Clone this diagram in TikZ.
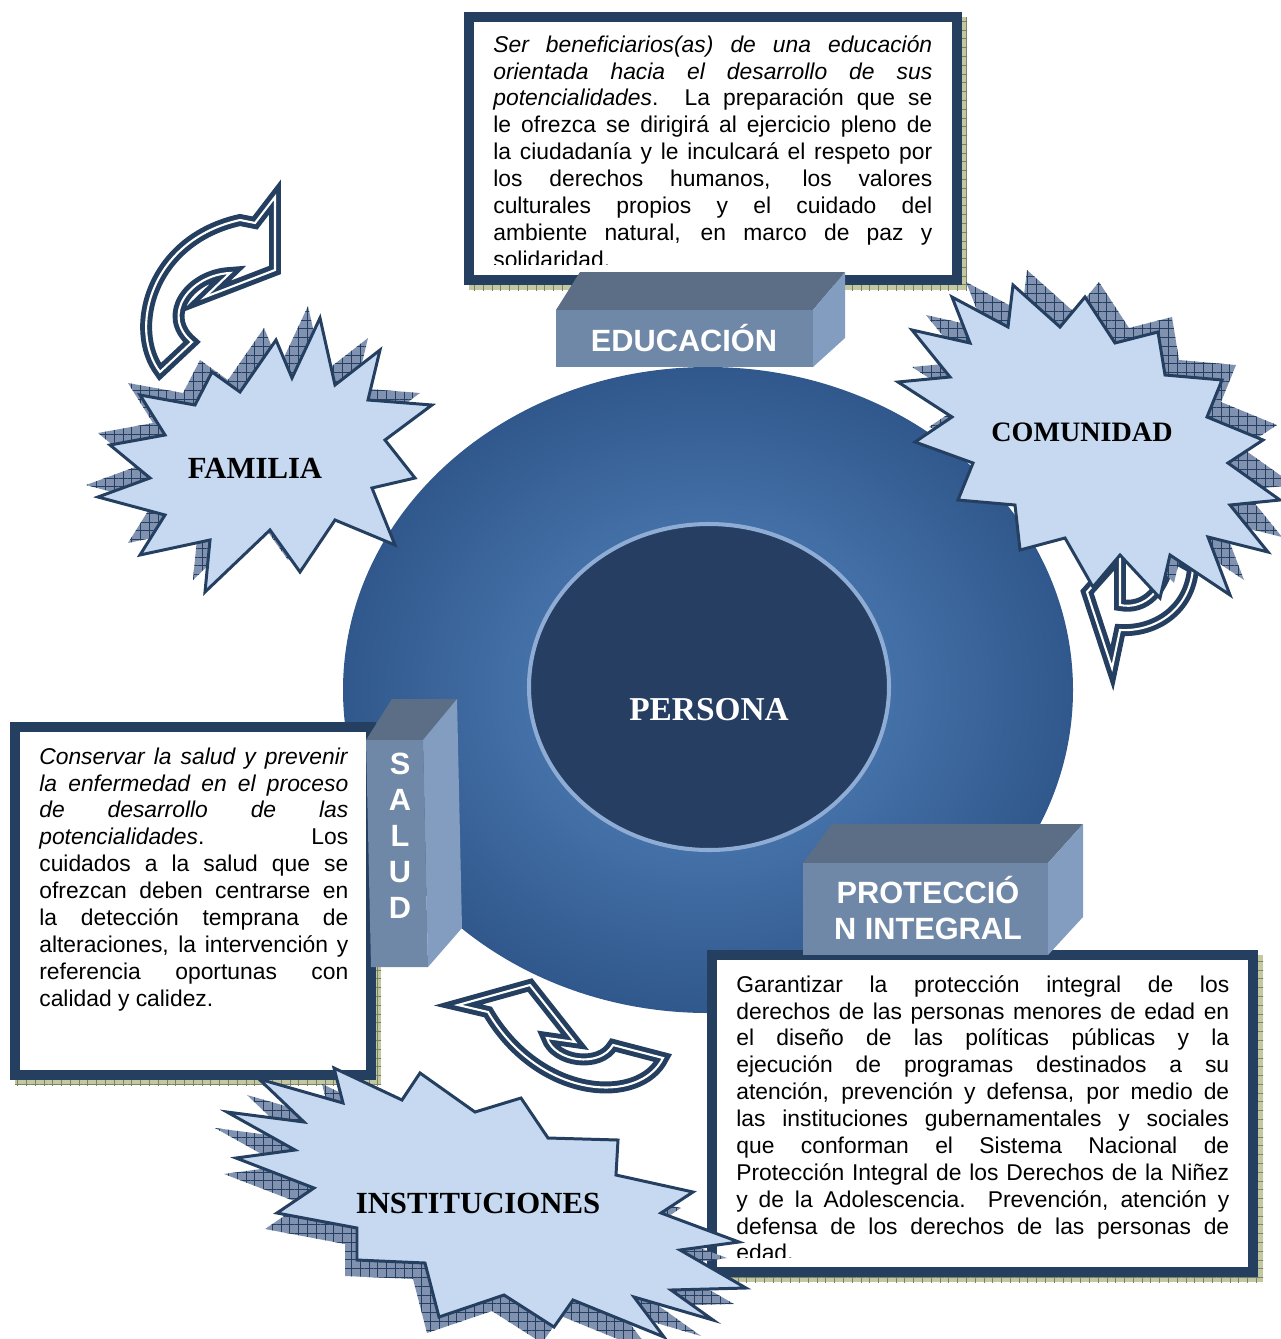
\documentclass[tikz,border=0pt]{standalone}
\usepackage{fontspec}
\setmainfont{Liberation Sans}
\newfontfamily\serifa{Liberation Serif}
\usetikzlibrary{patterns.meta}
\definecolor{azul_oscuro}{RGB}{36,63,96}
\definecolor{celeste}{RGB}{198,217,241}
\definecolor{gris_azul}{RGB}{128,146,176}
\definecolor{oliva}{RGB}{196,200,160}
\definecolor{oliva_oscuro}{RGB}{120,130,100}
\definecolor{caja_tapa}{RGB}{91,110,134}
\definecolor{caja_frente}{RGB}{112,136,167}
\definecolor{caja_lado}{RGB}{130,157,192}
\definecolor{disco_claro}{RGB}{88,136,196}
\definecolor{disco_oscuro}{RGB}{48,88,140}
\definecolor{persona}{RGB}{37,62,98}
\definecolor{anillo}{RGB}{143,172,212}
\tikzstyle{estrella}=[fill=celeste,draw=azul_oscuro,line width=1.7pt,line join=miter]
\tikzstyle{sombra_estrella}=[preaction={fill=gris_azul},
  pattern={Hatch[angle=0,distance=5pt,line width=0.5pt]},pattern color=azul_oscuro]
\tikzstyle{marco}=[fill=white,draw=azul_oscuro,line width=5.7pt]
\tikzstyle{sombra_marco}=[preaction={fill=oliva},
  pattern={Hatch[angle=0,distance=5pt,line width=0.4pt]},pattern color=oliva_oscuro]
\tikzstyle{flecha}=[fill=white,draw=azul_oscuro,line width=2.8pt,
  double=white,double distance=1.2pt,line join=miter]
\tikzstyle{etiqueta}=[font=\serifa\bfseries\fontsize{17.5}{20}\selectfont]
\tikzstyle{bloque}=[text=white,align=center,
  font=\bfseries\fontsize{17.5}{20.5}\selectfont]
\tikzstyle{texto}=[anchor=north west,inner sep=0pt,align=left,
  font=\fontsize{13}{15.3}\selectfont]
\newcommand{\fila}[2][8.78cm]{\makebox[#1][s]{#2}}
\newcommand{\trazofamilia}{(212,372) -- (240,392) -- (276,340) -- (292,378) -- (320,318)
  -- (335,385) -- (380,350) -- (368,400) -- (432,405) -- (385,440) -- (415,478)
  -- (372,488) -- (395,545) -- (335,520) -- (300,572) -- (270,530) -- (205,592)
  -- (210,540) -- (140,555) -- (165,515) -- (98,497) -- (150,478) -- (110,445)
  -- (165,435) -- (140,395) -- (195,405) -- cycle}
\newcommand{\trazocomunidad}{(952,297) -- (1008,327) -- (1013,285) -- (1060,327)
  -- (1085,297) -- (1115,343) -- (1158,332) -- (1165,375) -- (1222,380) -- (1207,417)
  -- (1263,440) -- (1228,463) -- (1280,500) -- (1230,505) -- (1268,552) -- (1208,537)
  -- (1230,595) -- (1170,555) -- (1160,598) -- (1120,555) -- (1093,587) -- (1065,538)
  -- (1020,550) -- (1015,505) -- (958,500) -- (973,463) -- (915,442) -- (952,417)
  -- (898,382) -- (950,377) -- (912,330) -- (970,343) -- cycle}
\newcommand{\trazoinstituciones}{(334,1068) -- (402,1100) -- (420,1073) -- (475,1112)
  -- (521,1098) -- (548,1138) -- (618,1140) -- (616,1175) -- (693,1192) -- (661,1213)
  -- (739,1242) -- (680,1250) -- (746,1288) -- (671,1290) -- (713,1320) -- (634,1297)
  -- (664,1337) -- (573,1300) -- (554,1327) -- (504,1295) -- (439,1317) -- (425,1263)
  -- (357,1260) -- (357,1228) -- (277,1213) -- (314,1188) -- (236,1158) -- (295,1150)
  -- (227,1112) -- (304,1122) -- (259,1079) -- (343,1103) -- cycle}

\begin{document}
\begin{tikzpicture}[x=0.02cm, y=-0.02cm]
    \useasboundingbox (0,0) rectangle (1281,1339);
    \path [style=sombra_marco] (469,17) rectangle (967,290);
    \draw [style=marco] (469,17) rectangle (957,280);
    \begin{scope}
        \clip (474,22) rectangle (952,264);
        \node [style=texto] (0) at (493,33) {\fila{\strut\textit{Ser beneficiarios(as) de una educación}}\\
            \fila{\textit{orientada hacia el desarrollo de sus}}\\
            \fila{\textit{potencialidades}.\ \ La preparación que se}\\
            \fila{le ofrezca se dirigirá al ejercicio pleno de}\\
            \fila{la ciudadanía y le inculcará el respeto por}\\
            \fila{los derechos humanos, los valores}\\
            \fila{culturales propios y el cuidado del}\\
            \fila{ambiente natural, en marco de paz y}\\
            solidaridad.};
    \end{scope}
    \fill [caja_tapa] (556,310) -- (580,272) -- (845,272) -- (813,310) -- cycle;
    \fill [caja_lado] (813,310) -- (845,272) -- (845,338) -- (813,367) -- cycle;
    \fill [caja_frente] (556,310) rectangle (813,367);
    \node [style=bloque] (1) at (684,338) {EDUCACIÓN};
    \shade [inner color=disco_claro, outer color=disco_oscuro] (708,690) ellipse [x radius=365, y radius=323];
    \draw [fill=persona, draw=anillo, line width=2.3pt] (709,687) ellipse [x radius=180, y radius=163];
    \node [style=etiqueta, text=white, font=\serifa\bfseries\fontsize{19}{22}\selectfont] (2) at (709,710) {PERSONA};
    \path [style=sombra_estrella, shift={(-12,-12)}] \trazofamilia;
    \draw [style=estrella] \trazofamilia;
    \node [style=etiqueta] (3) at (255,468) {FAMILIA};
    \draw [style=flecha] (160,372) .. controls (128,330) and (150,240) .. (240,220) -- (255,223) -- (275,197)
        -- (275,270) -- (205,297) -- (230,273) .. controls (190,275) and (160,315) .. (192,342) -- cycle;
    \draw [style=flecha] (1170,555) -- (1193,568) .. controls (1190,610) and (1155,632) .. (1120,630)
        -- (1112,668) -- (1087,592) -- (1120,555) -- (1120,605) .. controls (1145,610) and (1165,590) .. (1170,555) -- cycle;
    \path [style=sombra_estrella, shift={(14,-15)}] \trazocomunidad;
    \draw [style=estrella] \trazocomunidad;
    \node [style=etiqueta, font=\serifa\bfseries\fontsize{16}{19}\selectfont] (4) at (1082,432) {COMUNIDAD};
    \path [style=sombra_marco] (15,727) rectangle (381,1085);
    \draw [style=marco] (15,727) rectangle (371,1075);
    \node [style=texto] (5) at (39,745) {\fila[6.18cm]{\strut\textit{Conservar la salud y prevenir}}\\
        \fila[6.18cm]{\textit{la enfermedad en el proceso}}\\
        \fila[6.18cm]{\textit{de desarrollo de las}}\\
        \fila[6.18cm]{\textit{potencialidades}. Los}\\
        \fila[6.18cm]{cuidados a la salud que se}\\
        \fila[6.18cm]{ofrezcan deben centrarse en}\\
        \fila[6.18cm]{la detección temprana de}\\
        \fila[6.18cm]{alteraciones, la intervención y}\\
        \fila[6.18cm]{referencia oportunas con}\\
        calidad y calidez.};
    \fill [caja_tapa] (366,740) -- (392,699) -- (457,699) -- (423,740) -- cycle;
    \fill [caja_lado] (423,740) -- (457,699) -- (462,928) -- (428,967) -- cycle;
    \fill [caja_frente] (366,740) -- (423,740) -- (428,967) -- (371,967) -- cycle;
    \node [style=bloque] (6) at (400,836) {S\\A\\L\\U\\D};
    \path [style=sombra_marco] (712,955) rectangle (1263,1282);
    \draw [style=marco] (712,955) rectangle (1253,1272);
    \begin{scope}
        \clip (717,960) rectangle (1248,1257);
        \node [style=texto] (7) at (736,973) {\fila[9.86cm]{\strut Garantizar la protección integral de los}\\
            \fila[9.86cm]{derechos de las personas menores de edad en}\\
            \fila[9.86cm]{el diseño de las políticas públicas y la}\\
            \fila[9.86cm]{ejecución de programas destinados a su}\\
            \fila[9.86cm]{atención, prevención y defensa, por medio de}\\
            \fila[9.86cm]{las instituciones gubernamentales y sociales}\\
            \fila[9.86cm]{que conforman el Sistema Nacional de}\\
            \fila[9.86cm]{Protección Integral de los Derechos de la Niñez}\\
            \fila[9.86cm]{y de la Adolescencia. Prevención, atención y}\\
            \fila[9.86cm]{defensa de los derechos de las personas de}\\
            edad.};
    \end{scope}
    \fill [caja_tapa] (803,863) -- (832,824) -- (1083,824) -- (1048,863) -- cycle;
    \fill [caja_lado] (1048,863) -- (1083,824) -- (1083,917) -- (1048,955) -- cycle;
    \fill [caja_frente] (803,863) rectangle (1048,955);
    \node [style=bloque] (8) at (928,908) {PROTECCIÓ\\N INTEGRAL};
    \draw [style=flecha] (458,1005) -- (530,985) -- (575,1042) -- (547,1038) .. controls (555,1062) and (600,1068) .. (613,1045)
        -- (663,1058) .. controls (640,1105) and (540,1100) .. (488,1012) -- cycle;
    \path [style=sombra_estrella, shift={(-12,16)}] \trazoinstituciones;
    \draw [style=estrella] \trazoinstituciones;
    \node [style=etiqueta] (9) at (478,1203) {INSTITUCIONES};
\end{tikzpicture}
\end{document}
